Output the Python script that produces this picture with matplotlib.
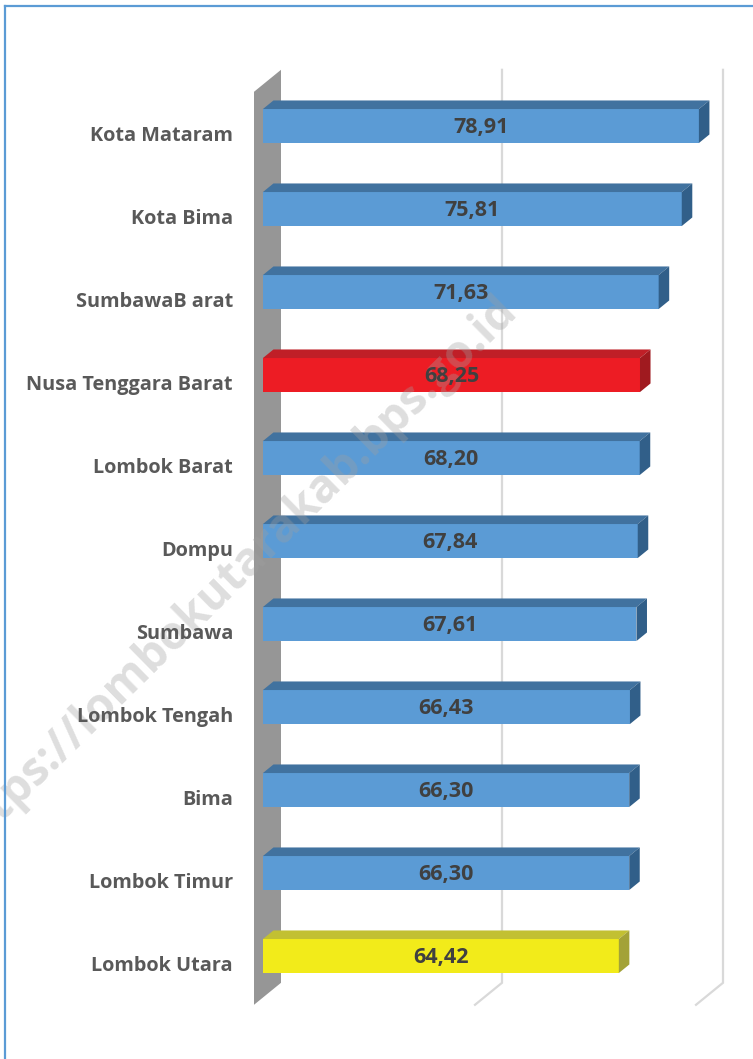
import numpy as np
import matplotlib.pyplot as plt
from matplotlib.patches import Polygon
from matplotlib.lines import Line2D

# IPM per kabupaten/kota, NTB
categories = ['Kota Mataram', 'Kota Bima', 'SumbawaB arat', 'Nusa Tenggara Barat',
              'Lombok Barat', 'Dompu', 'Sumbawa', 'Lombok Tengah', 'Bima',
              'Lombok Timur', 'Lombok Utara']
values = [78.91, 75.81, 71.63, 68.25, 68.20, 67.84, 67.61, 66.43, 66.30, 66.30, 64.42]
labels = ['78,91', '75,81', '71,63', '68,25', '68,20', '67,84', '67,61', '66,43',
          '66,30', '66,30', '64,42']
grid_values = [40, 80]

# face colours: (front, top, side)
blue = ('#5b9bd5', '#41729f', '#315f89')
red = ('#ed1c24', '#c01f27', '#a01a1f')
yellow = ('#f2eb1a', '#c2c032', '#a3a237')
styles = [blue] * 11
styles[3] = red
styles[10] = yellow

W, H = 753, 1059
fig = plt.figure(figsize=(W / 100, H / 100), dpi=100)
ax = fig.add_axes([0, 0, 1, 1])
ax.axis('off')

# pixel layout of the fake 3D scene
px_unit = 5.525      # px per value unit
x0_px = 254          # value 0 at floor front
row_px = 83          # px between categories
y0_px = 133.3        # first category at floor front
ax.set_xlim(-x0_px / px_unit, (W - x0_px) / px_unit)
ax.set_ylim((H - y0_px) / row_px, -y0_px / row_px)

DX = 27 / px_unit    # full depth shift in x (data units)
DY = 22 / row_px     # full depth shift in y (category units)
d1, d2 = 0.33, 0.72  # bar front / back depth
bh = 34 / row_px

n = len(categories)
pos = np.arange(n)
lo, hi = -0.5, n - 0.5

# side wall at value 0
ax.add_patch(Polygon([(0, lo), (DX, lo - DY), (DX, hi - DY), (0, hi)],
                     closed=True, facecolor='#969696', edgecolor='none', zorder=1))

# gridlines on back wall and floor
for g in grid_values:
    ax.plot([g + DX, g + DX, g], [lo - DY, hi - DY, hi], color='#d9d9d9', lw=1.6,
            zorder=0, solid_joinstyle='miter')

# bars
yc = pos - d1 * DY
left = d1 * DX
ax.barh(yc, values, left=left, height=bh, color=[s[0] for s in styles],
        edgecolor='none', zorder=3)
ddx, ddy = (d2 - d1) * DX, (d2 - d1) * DY
for y, v, s in zip(yc, values, styles):
    yt, yb = y - bh / 2, y + bh / 2
    xr = left + v
    ax.add_patch(Polygon([(left, yt), (left + ddx, yt - ddy), (xr + ddx, yt - ddy), (xr, yt)],
                         closed=True, facecolor=s[1], edgecolor='none', zorder=3))
    ax.add_patch(Polygon([(xr, yt), (xr + ddx, yt - ddy), (xr + ddx, yb - ddy), (xr, yb)],
                         closed=True, facecolor=s[2], edgecolor='none', zorder=3))

# value labels
for y, v, t in zip(yc, values, labels):
    ax.text(left + v / 2, y + 0.02, t, ha='center', va='center', fontsize=15.5,
            fontweight='bold', family='Open Sans', color='#404040', zorder=5)

# category labels
for y, c in zip(pos, categories):
    ax.text(-21 / px_unit, y + 0.03, c, ha='right', va='center', fontsize=14.3,
            fontweight='bold', family='Open Sans', color='#595959', zorder=5)

# watermark (cut off at the left edge, as in the original)
ax.text(518 / W, 1 - 312 / H, 'https://lombokutarakab.bps.go.id', rotation=44.5,
        transform=fig.transFigure, rotation_mode='anchor', ha='right', va='baseline',
        fontsize=33, fontweight='bold', family='Open Sans', color='#a0a0a0',
        alpha=0.35, zorder=4)

# chart frame (right and bottom edges are cut off)
fig.add_artist(Line2D([5 / W, 5 / W], [0, 1 - 6 / H], color='#5b9bd5', lw=1.6))
fig.add_artist(Line2D([5 / W, 1], [1 - 6 / H, 1 - 6 / H], color='#5b9bd5', lw=1.6))

fig.savefig('out.png', dpi=100)
